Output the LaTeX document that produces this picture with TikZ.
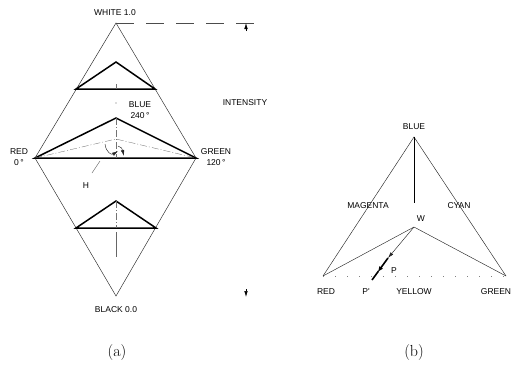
\documentclass[tikz,border=0pt]{standalone}
\usepackage{fontspec}
\newfontfamily\labelfont{Liberation Sans}
\usetikzlibrary{arrows.meta,positioning,calc}
\tikzset{every picture/.style={line width=0.5pt}}
\tikzset{
  lbl/.style={font=\labelfont\fontsize{8.5}{10}\selectfont, inner sep=0pt, align=center},
  subcap/.style={font=\fontsize{16}{18}\selectfont, inner sep=0pt},
  thinline/.style={line width=0.45pt, black!85},
  hexcone/.style={line width=1.5pt, line join=miter},
  axisline/.style={line width=0.35pt, black!55, dash pattern=on 7pt off 2pt on 1pt off 2pt},
  arrtip/.style={-{Latex[length=6pt,width=3.5pt]}},
}

\begin{document}
\begin{tikzpicture}[x=1pt,y=-1pt]
    \useasboundingbox (0,0) rectangle (522,373);

    % (a) double cone
    \coordinate (white) at (116,23);
    \coordinate (red) at (35,158);
    \coordinate (green) at (196,158);
    \coordinate (black) at (116,296);
    \draw[thinline] (white) -- (red) -- (black) -- (green) -- cycle;

    % upper cut
    \coordinate (ua) at (116,62);
    \coordinate (ul) at (76,89);
    \coordinate (ur) at (155,89);
    \draw[hexcone] (ul) -- (ua) -- (ur) -- cycle;
    \draw[axisline] (116,84) -- (116,89);
    \fill[black!60] (116,103) circle (0.6);

    % middle cut
    \coordinate (ma) at (116,118);
    \coordinate (mw) at (116,139);
    \draw[hexcone] (red) -- (ma) -- (green) -- cycle;
    \draw[axisline] (red) -- (mw) -- (green);
    \draw[axisline] (ma) -- (116,158);

    % lower cut
    \coordinate (la) at (116,201);
    \coordinate (ll) at (76,228);
    \coordinate (lr) at (156,228);
    \coordinate (lbot) at (116,257);
    \draw[hexcone] (ll) -- (la) -- (lr) -- cycle;
    \draw[axisline] (la) -- (116,228);
    \draw[line width=0.4pt, black!60] (116,232) -- (lbot);

    % hue angle
    \draw[thinline, arrtip] (105,144) .. controls (106,153) and (112,155) .. (118,151);
    \draw[thinline, arrtip] (118,146) .. controls (122,148) .. (124,156);
    \node[lbl] (hlbl) at (86,186) {H};
    \draw[line width=0.4pt, black!70] (100,161) -- (92,173);

    % intensity
    \draw[line width=0.4pt, black!70, dash pattern=on 18pt off 12pt] (white) -- (257,23);
    \coordinate (itop) at (246,23);
    \coordinate (ibot) at (246,297);
    \draw[arrtip] ($(itop)+(0,8)$) -- (itop);
    \draw[arrtip] ($(ibot)+(0,-8)$) -- (ibot);
    \node[lbl] (intens) at (245,103) {INTENSITY};

    % labels (a)
    \node[lbl] (whitelbl) at (115,13) {WHITE 1.0};
    \node[lbl] (redlbl) at (19,157.5) {RED\\[1pt]0\,°};
    \node[lbl] (greenlbl) at (216,157.5) {GREEN\\[1pt]120\,°};
    \node[lbl] (bluelbl) at (140,110) {BLUE\\[1pt]240\,°};
    \node[lbl] (blacklbl) at (116,310) {BLACK 0.0};
    \node[subcap] (capa) at (117,352) {(a)};

    % (b) chromaticity triangle
    \coordinate (bb) at (414,137);
    \coordinate (br) at (323,276);
    \coordinate (bg) at (506,276);
    \coordinate (bw) at (414,227);
    \coordinate (bwt) at (414,203);
    \coordinate (bp) at (388,258);
    \coordinate (bpp) at (372,280);
    \draw[thinline] (br) -- (bb) -- (bg);
    \draw[thinline] (br) -- (bw) -- (bg);
    \draw[line width=0.5pt] (bb) -- (bwt);
    \draw[line width=0.6pt, gray, dash pattern=on 1pt off 11pt] (br) -- (bg);
    \draw[thinline, arrtip] (bw) -- (bp);
    \draw[line width=1.6pt, -{Latex[length=6pt,width=4.5pt]}] (bp) -- ($(bp)!0.65!(bpp)$);
    \draw[line width=1.6pt] ($(bp)!0.6!(bpp)$) -- (bpp);

    % labels (b)
    \node[lbl] (bbl) at (414,127) {BLUE};
    \node[lbl] (mag) at (368,206) {MAGENTA};
    \node[lbl] (cyan) at (459,206) {CYAN};
    \node[lbl] (wlbl) at (421,219) {W};
    \node[lbl] (plbl) at (394,271) {P};
    \node[lbl] (pplbl) at (366,292) {P'};
    \node[lbl] (yel) at (414,292) {YELLOW};
    \node[lbl] (brl) at (326,292) {RED};
    \node[lbl] (bgl) at (496,292) {GREEN};
    \node[subcap] (capb) at (414,352) {(b)};
\end{tikzpicture}
\end{document}
